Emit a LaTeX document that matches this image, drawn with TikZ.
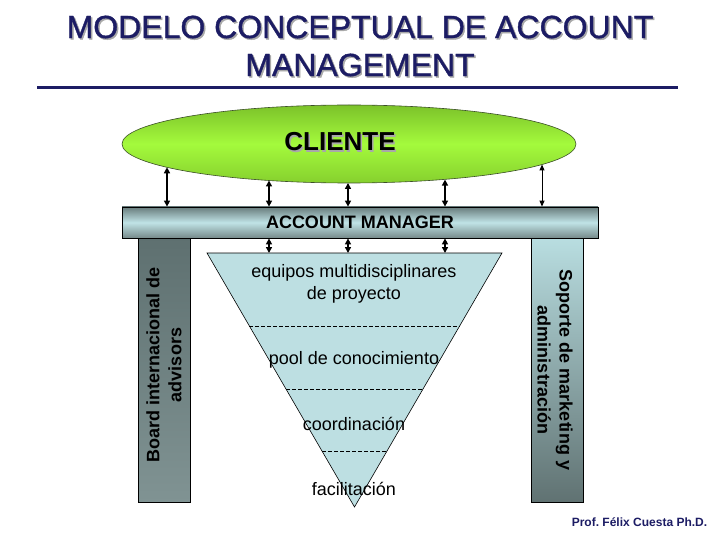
\documentclass[tikz,border=0pt]{standalone}
\usepackage{fontspec}
\setmainfont{Liberation Sans}
\newfontfamily\titlefont[FakeBold=1.2]{Liberation Sans}
\usetikzlibrary{shapes.geometric,arrows.meta,calc}
\definecolor{navy}{HTML}{1C1C64}
\definecolor{shadowgray}{HTML}{A8A8A8}
\definecolor{trifill}{HTML}{BDDFE2}
\definecolor{lefttop}{HTML}{5E7070}
\definecolor{leftbot}{HTML}{809393}
\definecolor{righttop}{HTML}{B9DEE1}
\definecolor{rightbot}{HTML}{607272}
\definecolor{bartop}{HTML}{687C7C}
\definecolor{barmid}{HTML}{C0E3E6}
\definecolor{barbot}{HTML}{768A8A}
\definecolor{elltop}{HTML}{7CC22A}
\definecolor{ellmid}{HTML}{A4FA3C}
\definecolor{ellbot}{HTML}{86D02E}
\definecolor{elldraw}{HTML}{3C5028}
\tikzset{
  titletext/.style={font=\titlefont\fontsize{32}{36}\selectfont, text=navy, inner sep=0pt},
  titleshadow/.style={font=\titlefont\fontsize{32}{36}\selectfont, text=shadowgray, inner sep=0pt},
  dbl/.style={{Triangle[length=6pt,width=6pt]}-{Triangle[length=6pt,width=6pt]}, line width=2pt},
  dblthin/.style={{Triangle[length=6pt,width=5pt]}-{Triangle[length=6pt,width=5pt]}, line width=1pt},
  colbox/.style={draw=black, line width=0.8pt, minimum width=52pt, minimum height=265pt, inner sep=0pt},
  coltext/.style={font=\bfseries\fontsize{18}{22}\selectfont, align=center, inner sep=0pt},
  tritext/.style={font=\fontsize{18}{22}\selectfont, align=center, inner sep=0pt},
  divline/.style={line width=0.6pt, dash pattern=on 4pt off 2pt},
}
\frenchspacing
\begin{document}
\begin{tikzpicture}[x=1pt,y=-1pt]
\useasboundingbox (0,0) rectangle (720,540);
% Title
\node[titleshadow] (t1s) at (361.5,28.5) {MODELO CONCEPTUAL DE ACCOUNT};
\node[titletext] (t1) at (360,27) {MODELO CONCEPTUAL DE ACCOUNT};
\node[titleshadow] (t2s) at (361.5,66.5) {MANAGEMENT};
\node[titletext] (t2) at (360,65) {MANAGEMENT};
\draw[navy, line width=3pt] (37,88) coordinate (hl) -- (678,88) coordinate (hr);
% Columns
\node[colbox, top color=lefttop, bottom color=leftbot] (left) at (164,369.5) {};
\node[colbox, top color=righttop, bottom color=rightbot] (right) at (557,369.5) {};
\node[coltext, rotate=90] (lefttext) at (164,365) {Board internacional de\\advisors};
\node[coltext, rotate=-90] (righttext) at (555,370) {Soporte de marketing y\\administración};
% Account manager bar
\node[draw=black, line width=0.8pt, minimum width=476pt, minimum height=31pt, inner sep=0pt,
  top color=bartop, bottom color=barbot, middle color=barmid,
  font=\bfseries\fontsize{18}{20}\selectfont] (am) at (360,222.5) {ACCOUNT MANAGER};
% Cliente ellipse
\node[ellipse, draw=elldraw, line width=0.6pt, minimum width=454pt, minimum height=78pt, inner sep=0pt,
  top color=elltop, bottom color=ellbot, middle color=ellmid] (cliente) at (349,144) {};
\node[font=\bfseries\fontsize{26}{28}\selectfont, text=shadowgray, inner sep=0pt] (clis) at (341.5,143.5) {CLIENTE};
\node[font=\bfseries\fontsize{26}{28}\selectfont, text=black, inner sep=0pt] (cli) at (340,142) {CLIENTE};
% Triangle
\draw[fill=trifill, line width=0.6pt] (207,253) coordinate (tl) -- (502,253) coordinate (tr) -- (354.5,507) coordinate (ap) -- cycle;
\draw[divline] ($(tl)!0.287!(ap)$) -- ($(tr)!0.287!(ap)$);
\draw[divline] ($(tl)!0.535!(ap)$) -- ($(tr)!0.535!(ap)$);
\draw[divline] ($(tl)!0.78!(ap)$) -- ($(tr)!0.78!(ap)$);
\node[tritext] (eq) at (354,284) {equipos multidisciplinares\\de proyecto};
\node[tritext] (pool) at (354,360) {pool de conocimiento};
\node[tritext] (coord) at (354,424) {coordinación};
\node[tritext] (fac) at (354,489) {facilitación};
% Arrows cliente - account manager
\coordinate (c1) at ($(cliente.center)+(-182,23.3)$);
\coordinate (c2) at ($(cliente.center)+(-80,36.5)$);
\coordinate (c3) at ($(cliente.center)+(-1,39)$);
\coordinate (c4) at ($(cliente.center)+(96,35.6)$);
\coordinate (c5) at ($(cliente.center)+(193,20.5)$);
\draw[dbl] (c1) -- (c1 |- am.north);
\draw[dbl] (c2) -- (c2 |- am.north);
\draw[dbl] (c3) -- (c3 |- am.north);
\draw[dbl] (c4) -- (c4 |- am.north);
\draw[dblthin] (c5) -- (c5 |- am.north);
% Arrows account manager - triangle
\draw[dbl] (c2 |- am.south) -- (c2 |- tl);
\draw[dbl] (c3 |- am.south) -- (c3 |- tl);
\draw[dbl] (c4 |- am.south) -- (c4 |- tl);
% Footer
\node[font=\bfseries\fontsize{12}{14}\selectfont, text=navy, inner sep=0pt] (prof) at (639.5,522) {Prof. Félix Cuesta Ph.D.};
\end{tikzpicture}
\end{document}
